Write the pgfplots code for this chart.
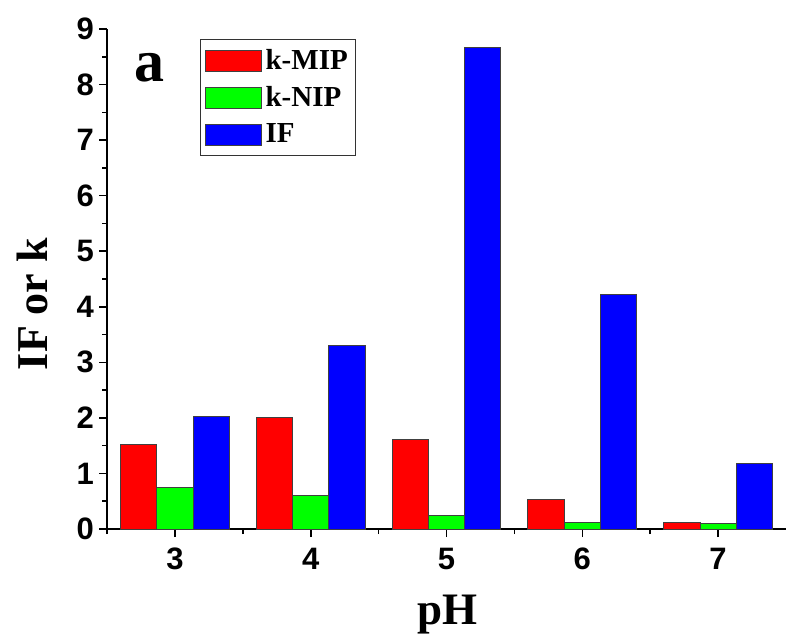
\documentclass[border=0pt]{standalone}
\usepackage{fontspec}
\setmainfont{Liberation Serif}
\setsansfont{Liberation Sans}
\usepackage{pgfplots}
\pgfplotsset{compat=1.18}
\definecolor{cred}{RGB}{255,0,0}
\definecolor{cgreen}{RGB}{0,255,0}
\definecolor{cblue}{RGB}{0,0,255}
\begin{document}
\begin{tikzpicture}
\begin{axis}[
  scale only axis,
  width=339.5pt, height=250pt,
  xmin=2.5, xmax=7.5, ymin=0, ymax=9,
  axis x line=bottom, axis y line=left,
  axis line style={-, line width=1pt},
  ybar=0pt, bar width=0.2667,
  xtick={3,4,5,6,7},
  minor xtick={2.5,3.5,4.5,5.5,6.5},
  ytick={0,1,...,9},
  minor y tick num=1,
  tick align=outside,
  major tick length=4pt, minor tick length=2.5pt,
  tick style={line width=0.8pt, black},
  /pgf/number format/assume math mode=true,
  tick label style={font=\sffamily\bfseries\fontsize{15.5}{15.5}\selectfont},
  xticklabel style={yshift=-2pt},
  yticklabel style={xshift=1pt},
  xlabel={pH},
  ylabel={IF or k},
  xlabel style={font=\bfseries\fontsize{22.5}{24}\selectfont, at={(axis description cs:0.502,-0.172)}, anchor=center},
  ylabel style={font=\bfseries\fontsize{22}{24}\selectfont, at={(axis description cs:-0.11,0.45)}, anchor=center},
  legend style={at={(rel axis cs:0.137,0.98)}, anchor=north west, draw=black!80, line width=0.6pt,
    font=\bfseries\fontsize{14.5}{15}\selectfont, inner xsep=2pt, inner ysep=3pt, row sep=3pt},
  legend cell align=left,
  legend image code/.code={\draw[#1,draw=black!75,line width=0.5pt] (0pt,-5.25pt) rectangle (28pt,5.25pt);},
  clip=false,
]
\addplot[fill=cred, draw=black!75, line width=0.5pt] coordinates {(3,1.52) (4,2.01) (5,1.62) (6,0.54) (7,0.12)};
\addplot[fill=cgreen, draw=black!75, line width=0.5pt] coordinates {(3,0.74) (4,0.60) (5,0.25) (6,0.12) (7,0.10)};
\addplot[fill=cblue, draw=black!75, line width=0.5pt] coordinates {(3,2.03) (4,3.30) (5,8.66) (6,4.23) (7,1.18)};
\legend{k-MIP,k-NIP,IF}
\node[font=\bfseries\fontsize{30}{30}\selectfont, anchor=base] at (axis description cs:0.063,0.896) {a};
\end{axis}
\pgfresetboundingbox
\path[use as bounding box] ([shift={(-53.5pt,-56pt)}]current axis.south west) rectangle ([shift={(0pt,14.5pt)}]current axis.north east);
\end{tikzpicture}
\end{document}
